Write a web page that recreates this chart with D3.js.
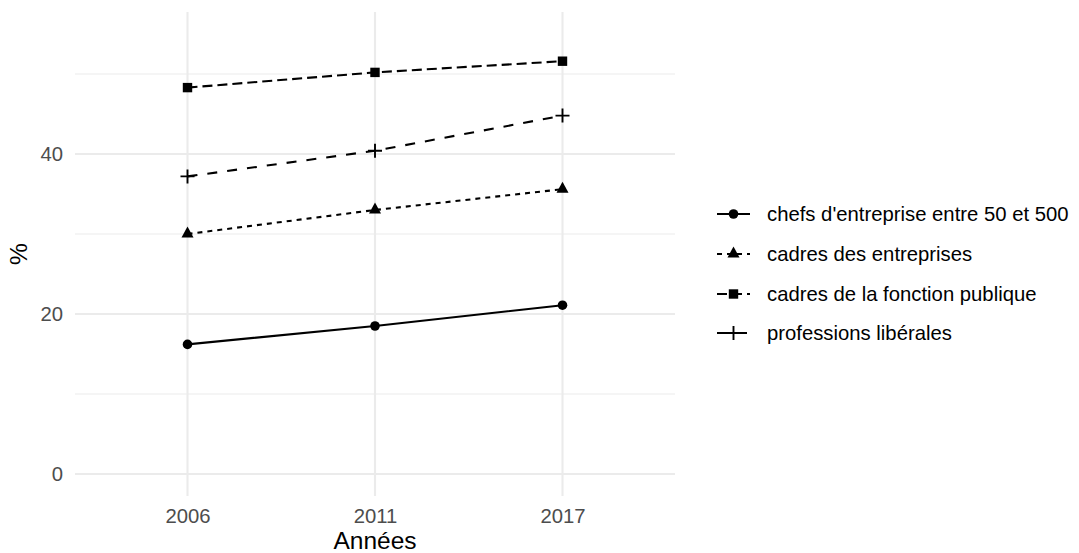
<!DOCTYPE html>
<html><head><meta charset="utf-8">
<script src="https://cdn.jsdelivr.net/npm/d3@7"></script>
<style>body{margin:0;background:#fff}svg{display:block}text{font-family:"Liberation Sans",Arial,sans-serif}</style>
</head><body>
<script>
const years = ["2006", "2011", "2017"];
const seriesNames = ["chefs d'entreprise entre 50 et 500", "cadres des entreprises", "cadres de la fonction publique", "professions libérales"];
const chefs = [16.2, 18.5, 21.1];
const cadresEntreprises = [30.0, 33.0, 35.6];
const cadresFonctionPublique = [48.3, 50.2, 51.6];
const professionsLiberales = [37.2, 40.4, 44.8];
const yMajorTicks = [0, 20, 40];
const yMinorTicks = [10, 30, 50];
const xTitle = "Années";
const yTitle = "%";

const values = [chefs, cadresEntreprises, cadresFonctionPublique, professionsLiberales];
const dashes = [null, "5,5", "10,5", "10,10"];
const shapes = ["circle", "triangle", "square", "plus"];

const W = 1079, H = 553;
const svg = d3.select("body").append("svg").attr("width", W).attr("height", H);

const x = d3.scalePoint().domain(years).range([75, 675]).padding(0.6);
const y = d3.scaleLinear().domain([-2.75, 57.75]).range([496, 12]);

const grid = svg.append("g");
grid.selectAll(".ymin").data(yMinorTicks).join("line")
  .attr("x1", 75).attr("x2", 675).attr("y1", d => y(d)).attr("y2", d => y(d))
  .attr("stroke", "#EBEBEB").attr("stroke-width", 1.1);
grid.selectAll(".ymaj").data(yMajorTicks).join("line")
  .attr("x1", 75).attr("x2", 675).attr("y1", d => y(d)).attr("y2", d => y(d))
  .attr("stroke", "#EBEBEB").attr("stroke-width", 2.1);
grid.selectAll(".xmaj").data(years).join("line")
  .attr("x1", d => x(d)).attr("x2", d => x(d)).attr("y1", 12).attr("y2", 496)
  .attr("stroke", "#EBEBEB").attr("stroke-width", 2.1);

const yAxis = svg.append("g").attr("transform", "translate(75,0)")
  .call(d3.axisLeft(y).tickValues(yMajorTicks).tickSize(0).tickPadding(12));
yAxis.select(".domain").remove();
yAxis.selectAll("text").attr("font-size", 20.3).attr("fill", "#4D4D4D")
  .attr("font-family", "Liberation Sans, Arial, sans-serif");

const xAxis = svg.append("g").attr("transform", "translate(0,496)")
  .call(d3.axisBottom(x).tickSize(0).tickPadding(13));
xAxis.select(".domain").remove();
xAxis.selectAll("text").attr("font-size", 20.3).attr("fill", "#4D4D4D")
  .attr("font-family", "Liberation Sans, Arial, sans-serif");

svg.append("text").attr("x", 375).attr("y", 549).attr("text-anchor", "middle")
  .attr("font-size", 24.5).attr("fill", "#000").text(xTitle);
svg.append("text").attr("transform", "translate(27,254) rotate(-90)")
  .attr("text-anchor", "middle").attr("font-size", 24.5).attr("fill", "#000").text(yTitle);

function drawShape(g, shape, cx, cy) {
  if (shape === "circle") {
    g.append("circle").attr("cx", cx).attr("cy", cy).attr("r", 4.8).attr("fill", "#000");
  } else if (shape === "square") {
    g.append("rect").attr("x", cx - 4.7).attr("y", cy - 4.7).attr("width", 9.4).attr("height", 9.4).attr("fill", "#000");
  } else if (shape === "triangle") {
    const s = 12, h = s * Math.sqrt(3) / 2;
    g.append("path").attr("d", `M${cx},${cy - h * 2 / 3 - 0.5}L${cx + s / 2},${cy + h / 3}L${cx - s / 2},${cy + h / 3}Z`).attr("fill", "#000");
  } else if (shape === "plus") {
    const a = 7;
    g.append("path").attr("d", `M${cx - a},${cy}H${cx + a}M${cx},${cy - a}V${cy + a}`)
      .attr("stroke", "#000").attr("stroke-width", 1.9).attr("fill", "none");
  }
}

const line = d3.line().x((d, i) => x(years[i])).y(d => y(d));
values.forEach((vals, k) => {
  const g = svg.append("g");
  g.append("path").attr("d", line(vals)).attr("fill", "none").attr("stroke", "#000")
    .attr("stroke-width", 2.1).attr("stroke-dasharray", dashes[k]);
  vals.forEach((v, i) => drawShape(g, shapes[k], x(years[i]), y(v)));
});

const legY = [214, 254, 294, 333];
seriesNames.forEach((name, k) => {
  const g = svg.append("g");
  const cy = legY[k];
  g.append("line").attr("x1", 717).attr("x2", 750).attr("y1", cy).attr("y2", cy)
    .attr("stroke", "#000").attr("stroke-width", 2.1).attr("stroke-dasharray", dashes[k]);
  drawShape(g, shapes[k], 733.5, cy);
  g.append("text").attr("x", 767).attr("y", cy + 7).attr("font-size", 20.3).attr("fill", "#000").text(name);
});
</script>
</body></html>
